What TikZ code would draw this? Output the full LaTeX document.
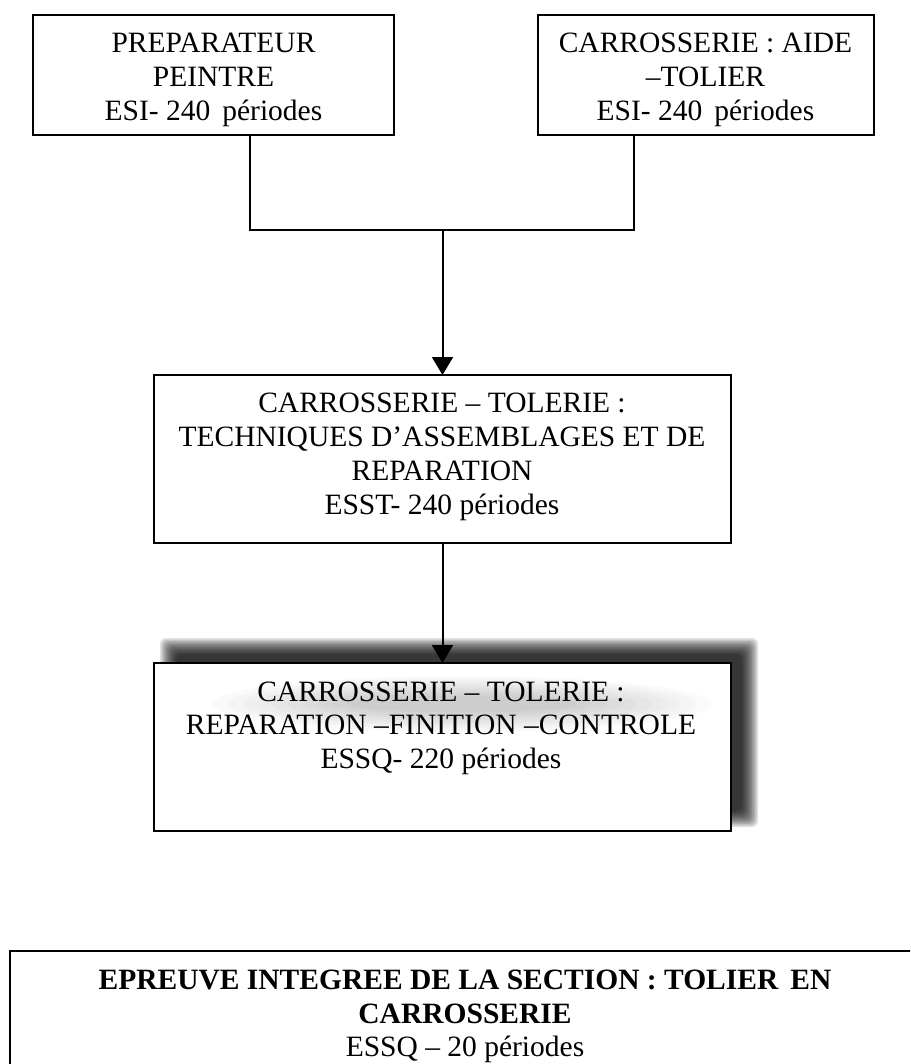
\documentclass[tikz,border=0pt]{standalone}
\usepackage{fontspec}
\setmainfont{Liberation Serif}
\usetikzlibrary{arrows.meta}
\begin{document}
\begin{tikzpicture}[x=1pt,y=-1pt,
  boxs/.style={draw=black, line width=2pt, fill=white, inner sep=0pt, outer sep=0pt},
  txt/.style={anchor=base, inner sep=0pt, font=\fontsize{29.5}{33.5}\selectfont},
  btxt/.style={anchor=base, inner sep=0pt, font=\fontsize{29.5}{33.5}\selectfont\bfseries},
  conn/.style={line width=2pt},
  arr/.style={line width=2pt, -{Triangle[length=18pt,width=21pt]}}]
\useasboundingbox (0,0) rectangle (910,1064);
\clip (0,0) rectangle (910,1064);

% top boxes
\node[boxs, minimum width=361pt, minimum height=120pt] (pp) at (213.5,75) {};
\node[txt] (pp1) at (213.5,53) {PREPARATEUR};
\node[txt] (pp2) at (213.5,87) {PEINTRE};
\node[txt] (pp3) at (213.5,121) {ESI- 240\hspace{12pt}périodes};

\node[boxs, minimum width=336pt, minimum height=120pt] (ca) at (706,75) {};
\node[txt] (ca1) at (705.5,53) {CARROSSERIE : AIDE};
\node[txt] (ca2) at (705.5,87) {–TOLIER};
\node[txt] (ca3) at (705.5,121) {ESI- 240\hspace{12pt}périodes};

% middle box
\node[boxs, minimum width=577pt, minimum height=168pt] (tech) at (442.5,459) {};
\node[txt] (te1) at (442,412.7) {CARROSSERIE – TOLERIE :};
\node[txt] (te2) at (442,446) {TECHNIQUES D’ASSEMBLAGES ET DE};
\node[txt] (te3) at (442,480) {REPARATION};
\node[txt] (te4) at (442,514) {ESST- 240 périodes};

% blurred shadow of the fourth box
\foreach \i in {0,...,11} {
  \fill[black, opacity=0.12, rounded corners=6pt] ({160+1.5*\i},{638+1.5*\i}) rectangle ({758-1.5*\i},{827-1.5*\i});
}
\node[boxs, minimum width=577pt, minimum height=168pt] (rep) at (442.5,747) {};
\foreach \i in {0,...,9} {
  \fill[black, opacity=0.018] (462,704) ellipse ({250-15*\i} and {28-2.2*\i});
}
\node[txt] (re1) at (441,701.5) {CARROSSERIE – TOLERIE :};
\node[txt] (re2) at (441,734.5) {REPARATION –FINITION –CONTROLE};
\node[txt] (re3) at (441,768.5) {ESSQ- 220 périodes};

% bottom box
\node[boxs, minimum width=915pt, minimum height=200pt] (epr) at (467.5,1051) {};
\node[btxt] (ep1) at (465,989.3) {EPREUVE INTEGREE DE LA SECTION : TOLIER\hspace{12pt}EN};
\node[btxt] (ep2) at (465,1023.3) {CARROSSERIE};
\node[txt] (ep3) at (465,1056.7) {ESSQ – 20 périodes};

% connectors
\coordinate (ld) at (250,230);
\coordinate (rd) at (634,230);
\coordinate (jn) at (442.5,230);
\draw[conn] (pp.south -| ld) -- (ld) -- (rd) -- (ca.south -| rd);
\draw[arr] (jn) -- (tech.north);
\draw[arr] (tech.south) -- (rep.north);
\end{tikzpicture}
\end{document}
